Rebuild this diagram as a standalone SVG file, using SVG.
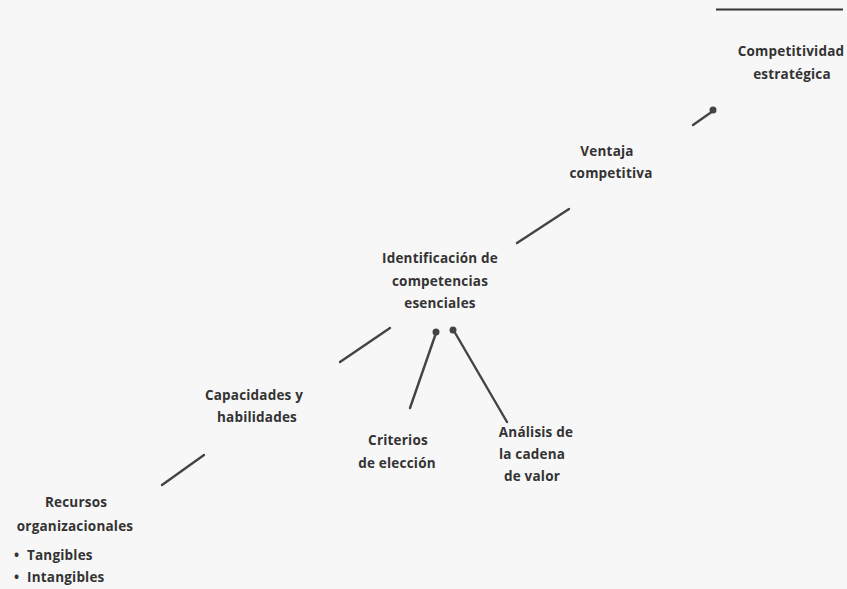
<svg xmlns="http://www.w3.org/2000/svg" width="847" height="589" viewBox="0 0 847 589">
<defs>
<style>
.t{font-family:"Open Sans","Liberation Sans",sans-serif;font-size:13.5px;font-weight:700;fill:#333;text-anchor:middle;letter-spacing:0.2px}
.tl{text-anchor:start}
.c{stroke:#444;stroke-width:2.4;stroke-linecap:round;fill:none}
.d{fill:#444}
</style>
</defs>
<rect width="847" height="589" fill="#f7f7f7"/>
<line x1="716" y1="9.5" x2="843" y2="9.5" stroke="#333" stroke-width="2"/>
<g id="connectors">
<line class="c" x1="693" y1="125" x2="713" y2="111"/>
<circle class="d" cx="713" cy="110" r="3.5"/>
<line class="c" x1="517" y1="243" x2="569" y2="209"/>
<line class="c" x1="340" y1="362" x2="390" y2="328"/>
<line class="c" x1="410" y1="408" x2="436" y2="333"/>
<circle class="d" cx="436" cy="332" r="3.5"/>
<line class="c" x1="507" y1="422" x2="454" y2="331"/>
<circle class="d" cx="453" cy="330" r="3.5"/>
<line class="c" x1="162" y1="485" x2="204" y2="455"/>
</g>
<g id="competitividad">
<text class="t" x="791" y="56">Competitividad</text>
<text class="t" x="792" y="79">estratégica</text>
</g>
<g id="ventaja">
<text class="t" x="607" y="156">Ventaja</text>
<text class="t" x="611" y="178">competitiva</text>
</g>
<g id="identificacion">
<text class="t" x="440" y="263">Identificación de</text>
<text class="t" x="440" y="286">competencias</text>
<text class="t" x="440" y="308">esenciales</text>
</g>
<g id="capacidades">
<text class="t" x="254" y="400">Capacidades y</text>
<text class="t" x="257" y="422">habilidades</text>
</g>
<g id="criterios">
<text class="t" x="398" y="445">Criterios</text>
<text class="t" x="397" y="468">de elección</text>
</g>
<g id="analisis">
<text class="t" x="536" y="437">Análisis de</text>
<text class="t" x="532" y="459">la cadena</text>
<text class="t" x="532" y="481">de valor</text>
</g>
<g id="recursos">
<text class="t" x="76" y="507">Recursos</text>
<text class="t" x="75" y="531">organizacionales</text>
<text class="t tl" x="14" y="560">•</text>
<text class="t tl" x="27" y="560">Tangibles</text>
<text class="t tl" x="14" y="582">•</text>
<text class="t tl" x="27" y="582">Intangibles</text>
</g>
</svg>
